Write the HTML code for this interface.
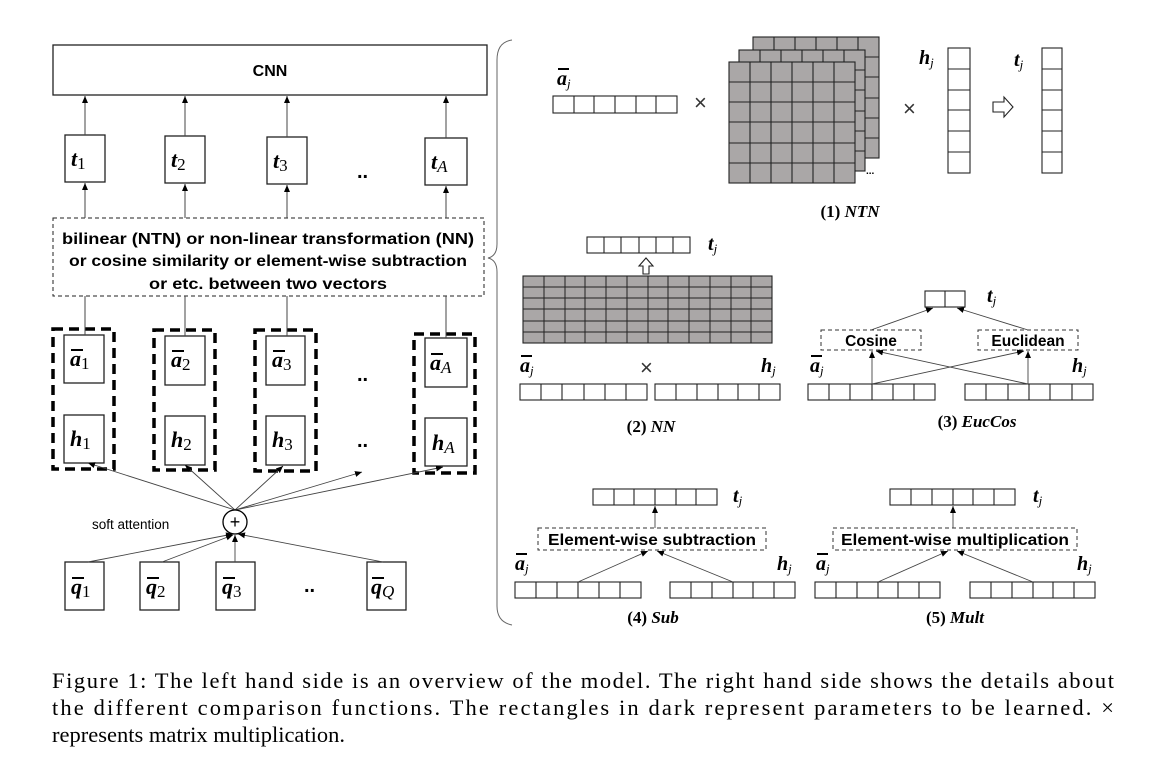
<!DOCTYPE html>
<html><head><meta charset="utf-8"><style>
html,body{margin:0;padding:0;background:#fff;}
svg{display:block;}
.s{font-family:"Liberation Sans",sans-serif;font-weight:bold;}
.m{font-family:"Liberation Serif",serif;font-weight:bold;font-style:italic;}
.sub{font-family:"Liberation Serif",serif;font-weight:normal;font-style:normal;}
.subi{font-family:"Liberation Serif",serif;font-style:italic;font-weight:normal;}
</style></head><body>
<svg width="1165" height="777" viewBox="0 0 1165 777" xmlns="http://www.w3.org/2000/svg">
<defs>
<marker id="ar" markerWidth="8" markerHeight="8" refX="7" refY="4" orient="auto" markerUnits="userSpaceOnUse">
<path d="M0,1 L7,4 L0,7 z" fill="#000"/></marker>
</defs>
<g fill="none" stroke="#222" stroke-width="1.3">
<rect x="53" y="45" width="434" height="50" fill="#fff"/>
<rect x="65" y="135" width="40" height="47"/>
<rect x="165" y="136" width="40" height="47"/>
<rect x="267" y="137" width="40" height="47"/>
<rect x="425" y="138" width="42" height="47"/>
<rect x="53" y="218" width="431" height="78" stroke-dasharray="4,3" stroke-width="1"/>
<rect x="64" y="335" width="40" height="48"/>
<rect x="64" y="415" width="40" height="48"/>
<rect x="165" y="336" width="40" height="49"/>
<rect x="165" y="416" width="40" height="49"/>
<rect x="266" y="336" width="39" height="49"/>
<rect x="266" y="416" width="39" height="49"/>
<rect x="425" y="338" width="42" height="49"/>
<rect x="425" y="418" width="42" height="48"/>
<rect x="65" y="562" width="39" height="48"/>
<rect x="140" y="562" width="39" height="48"/>
<rect x="216" y="562" width="39" height="48"/>
<rect x="367" y="562" width="39" height="48"/>
</g>
<g fill="none" stroke="#000" stroke-width="3.5" stroke-dasharray="10,6">
<rect x="53" y="329" width="61" height="140"/>
<rect x="154" y="330" width="61" height="140"/>
<rect x="255" y="330" width="61" height="141"/>
<rect x="414" y="334" width="61" height="139"/>
</g>
<g stroke="#444" stroke-width="1" marker-end="url(#ar)">
<line x1="85" y1="135" x2="85" y2="96"/>
<line x1="185" y1="136" x2="185" y2="96"/>
<line x1="287" y1="137" x2="287" y2="96"/>
<line x1="446" y1="138" x2="446" y2="96"/>
<line x1="85" y1="218" x2="85" y2="183"/>
<line x1="185" y1="218" x2="185" y2="184"/>
<line x1="287" y1="218" x2="287" y2="185"/>
<line x1="446" y1="218" x2="446" y2="186"/>
</g>
<g stroke="#444" stroke-width="1">
<line x1="85" y1="296" x2="85" y2="335"/>
<line x1="185" y1="296" x2="185" y2="336"/>
<line x1="287" y1="296" x2="287" y2="336"/>
<line x1="446" y1="296" x2="446" y2="338"/>
</g>
<g stroke="#444" stroke-width="0.9" marker-end="url(#ar)">
<line x1="235" y1="510" x2="88" y2="463"/>
<line x1="235" y1="510" x2="185" y2="465"/>
<line x1="235" y1="510" x2="283" y2="466"/>
<line x1="235" y1="510" x2="362" y2="472"/>
<line x1="235" y1="510" x2="443" y2="467"/>
<line x1="88" y1="562" x2="233" y2="534"/>
<line x1="162" y1="562" x2="233" y2="535"/>
<line x1="235" y1="562" x2="235" y2="535"/>
<line x1="383" y1="562" x2="238" y2="534"/>
</g>
<circle cx="235" cy="522" r="12" fill="#fff" stroke="#000" stroke-width="1.3"/>
<text x="235" y="528" font-family="Liberation Sans,sans-serif" font-size="18" text-anchor="middle">+</text>
<text x="92" y="529" font-family="Liberation Sans,sans-serif" font-size="13.5">soft attention</text>
<text x="270" y="76" class="s" font-size="16" text-anchor="middle">CNN</text>
<text x="268" y="244" class="s" font-size="15.5" text-anchor="middle" textLength="412" lengthAdjust="spacingAndGlyphs">bilinear (NTN) or non-linear transformation (NN)</text>
<text x="268" y="266" class="s" font-size="15.5" text-anchor="middle" textLength="398" lengthAdjust="spacingAndGlyphs">or cosine similarity or element-wise subtraction</text>
<text x="268" y="289" class="s" font-size="15.5" text-anchor="middle" textLength="238" lengthAdjust="spacingAndGlyphs">or etc. between two vectors</text>
<g font-size="22">
<text x="71" y="166" class="m">t<tspan class="sub" font-size="17" dy="3">1</tspan></text>
<text x="171" y="167" class="m">t<tspan class="sub" font-size="17" dy="3">2</tspan></text>
<text x="273" y="168" class="m">t<tspan class="sub" font-size="17" dy="3">3</tspan></text>
<text x="431" y="169" class="m">t<tspan class="subi" font-size="17" dy="3">A</tspan></text>
<text x="70" y="366" class="m">a<tspan class="sub" font-size="17" dy="3">1</tspan></text>
<text x="171" y="367" class="m">a<tspan class="sub" font-size="17" dy="3">2</tspan></text>
<text x="272" y="367" class="m">a<tspan class="sub" font-size="17" dy="3">3</tspan></text>
<text x="430" y="370" class="m">a<tspan class="subi" font-size="17" dy="3">A</tspan></text>
<text x="70" y="446" class="m">h<tspan class="sub" font-size="17" dy="3">1</tspan></text>
<text x="171" y="447" class="m">h<tspan class="sub" font-size="17" dy="3">2</tspan></text>
<text x="272" y="447" class="m">h<tspan class="sub" font-size="17" dy="3">3</tspan></text>
<text x="432" y="450" class="m">h<tspan class="subi" font-size="17" dy="3">A</tspan></text>
<text x="71" y="594" class="m">q<tspan class="sub" font-size="17" dy="3">1</tspan></text>
<text x="146" y="594" class="m">q<tspan class="sub" font-size="17" dy="3">2</tspan></text>
<text x="222" y="594" class="m">q<tspan class="sub" font-size="17" dy="3">3</tspan></text>
<text x="371" y="594" class="m">q<tspan class="subi" font-size="17" dy="3">Q</tspan></text>
</g>
<g stroke="#000" stroke-width="2">
<line x1="71" y1="350" x2="83" y2="350"/><line x1="172" y1="351" x2="184" y2="351"/><line x1="273" y1="351" x2="285" y2="351"/><line x1="431" y1="354" x2="443" y2="354"/>
<line x1="72" y1="578" x2="84" y2="578"/><line x1="147" y1="578" x2="159" y2="578"/><line x1="223" y1="578" x2="235" y2="578"/><line x1="372" y1="578" x2="384" y2="578"/>
</g>
<g font-family="Liberation Sans,sans-serif" font-size="20" font-weight="bold">
<text x="357" y="178">..</text><text x="357" y="381">..</text><text x="357" y="447">..</text><text x="304" y="592">..</text>
</g>
<path d="M512,40 Q497,42 497,60 L497,244 Q497,256 488,258 Q497,260 497,272 L497,606 Q497,622 512,625" fill="none" stroke="#666" stroke-width="1"/>

<g stroke="#222" stroke-width="1.1">
<rect x="753" y="37" width="126" height="121" fill="#aaa7a7"/>
<path d="M774,37V158M795,37V158M816,37V158M837,37V158M858,37V158M753,57H879M753,77H879M753,98H879M753,118H879M753,138H879"/>
<rect x="739" y="50" width="126" height="121" fill="#aaa7a7"/>
<path d="M760,50V171M781,50V171M802,50V171M823,50V171M844,50V171M739,70H865M739,90H865M739,111H865M739,131H865M739,151H865"/>
<rect x="729" y="62" width="126" height="121" fill="#aaa7a7"/>
<path d="M750,62V183M771,62V183M792,62V183M813,62V183M834,62V183M729,82H855M729,102H855M729,122H855M729,143H855M729,163H855"/>
</g>
<g fill="none" stroke="#222" stroke-width="1.1">
<rect x="553" y="96" width="124" height="17"/><path d="M574,96V113M594,96V113M615,96V113M636,96V113M656,96V113"/>
<rect x="948" y="48" width="22" height="125"/><path d="M948,69H970M948,90H970M948,110H970M948,131H970M948,152H970"/>
<rect x="1042" y="48" width="20" height="125"/><path d="M1042,69H1062M1042,90H1062M1042,110H1062M1042,131H1062M1042,152H1062"/>
<rect x="587" y="237" width="103" height="16"/><path d="M604,237V253M621,237V253M639,237V253M656,237V253M673,237V253"/>
<rect x="520" y="384" width="127" height="16"/><path d="M541,384V400M562,384V400M584,384V400M605,384V400M626,384V400"/>
<rect x="655" y="384" width="125" height="16"/><path d="M676,384V400M697,384V400M718,384V400M738,384V400M759,384V400"/>
<rect x="925" y="291" width="40" height="16"/><path d="M945,291V307"/>
<rect x="808" y="384" width="127" height="16"/><path d="M829,384V400M850,384V400M872,384V400M893,384V400M914,384V400"/>
<rect x="965" y="384" width="128" height="16"/><path d="M986,384V400M1008,384V400M1029,384V400M1050,384V400M1072,384V400"/>
<rect x="593" y="489" width="124" height="16"/><path d="M614,489V505M634,489V505M655,489V505M676,489V505M696,489V505"/>
<rect x="515" y="582" width="126" height="16"/><path d="M536,582V598M557,582V598M578,582V598M599,582V598M620,582V598"/>
<rect x="670" y="582" width="125" height="16"/><path d="M691,582V598M712,582V598M733,582V598M753,582V598M774,582V598"/>
<rect x="890" y="489" width="125" height="16"/><path d="M911,489V505M932,489V505M953,489V505M973,489V505M994,489V505"/>
<rect x="815" y="582" width="125" height="16"/><path d="M836,582V598M857,582V598M878,582V598M898,582V598M919,582V598"/>
<rect x="970" y="582" width="125" height="16"/><path d="M991,582V598M1012,582V598M1033,582V598M1053,582V598M1074,582V598"/>
</g>
<rect x="523" y="276" width="249" height="67" fill="#aaa7a7" stroke="#222" stroke-width="1.1"/>
<path d="M544,276V343M565,276V343M585,276V343M606,276V343M627,276V343M648,276V343M668,276V343M689,276V343M710,276V343M731,276V343M751,276V343M523,287H772M523,298H772M523,309H772M523,321H772M523,332H772" stroke="#222" stroke-width="1"/>
<path d="M993,102 H1004 V97 L1013,107 L1004,117 V112 H993 Z" fill="#fff" stroke="#222" stroke-width="1.1"/>
<path d="M643,274 V266 H639 L646,258 L653,266 H649 V274 Z" fill="#fff" stroke="#222" stroke-width="1.1"/>
<g fill="#fff" stroke="#333" stroke-width="1" stroke-dasharray="4,3">
<rect x="821" y="330" width="100" height="20"/>
<rect x="978" y="330" width="100" height="20"/>
<rect x="538" y="528" width="228" height="22"/>
<rect x="833" y="528" width="244" height="22"/>
</g>
<g stroke="#444" stroke-width="0.9" marker-end="url(#ar)">
<line x1="871" y1="330" x2="933" y2="308"/>
<line x1="1028" y1="330" x2="957" y2="308"/>
<line x1="872" y1="384" x2="872" y2="351"/>
<line x1="872" y1="384" x2="1024" y2="351"/>
<line x1="1028" y1="384" x2="1028" y2="351"/>
<line x1="1028" y1="384" x2="876" y2="351"/>
<line x1="655" y1="528" x2="655" y2="506"/>
<line x1="953" y1="528" x2="953" y2="506"/>
<line x1="578" y1="582" x2="648" y2="551"/>
<line x1="733" y1="582" x2="657" y2="551"/>
<line x1="878" y1="582" x2="948" y2="551"/>
<line x1="1033" y1="582" x2="957" y2="551"/>
</g>
<g class="s" font-size="15.5" text-anchor="middle">
<text x="871" y="346">Cosine</text>
<text x="1028" y="346">Euclidean</text>
<text x="652" y="545" textLength="208" lengthAdjust="spacingAndGlyphs">Element-wise subtraction</text>
<text x="955" y="545" textLength="228" lengthAdjust="spacingAndGlyphs">Element-wise multiplication</text>
</g>
<g font-size="20">
<text x="557" y="85" class="m">a<tspan class="subi" font-size="13" dy="3">j</tspan></text>
<text x="919" y="64" class="m">h<tspan class="subi" font-size="13" dy="3">j</tspan></text>
<text x="1014" y="66" class="m">t<tspan class="subi" font-size="13" dy="3">j</tspan></text>
<text x="708" y="250" class="m">t<tspan class="subi" font-size="13" dy="3">j</tspan></text>
<text x="520" y="372" class="m">a<tspan class="subi" font-size="13" dy="3">j</tspan></text>
<text x="761" y="372" class="m">h<tspan class="subi" font-size="13" dy="3">j</tspan></text>
<text x="987" y="302" class="m">t<tspan class="subi" font-size="13" dy="3">j</tspan></text>
<text x="810" y="372" class="m">a<tspan class="subi" font-size="13" dy="3">j</tspan></text>
<text x="1072" y="372" class="m">h<tspan class="subi" font-size="13" dy="3">j</tspan></text>
<text x="733" y="502" class="m">t<tspan class="subi" font-size="13" dy="3">j</tspan></text>
<text x="515" y="570" class="m">a<tspan class="subi" font-size="13" dy="3">j</tspan></text>
<text x="777" y="570" class="m">h<tspan class="subi" font-size="13" dy="3">j</tspan></text>
<text x="1033" y="502" class="m">t<tspan class="subi" font-size="13" dy="3">j</tspan></text>
<text x="816" y="570" class="m">a<tspan class="subi" font-size="13" dy="3">j</tspan></text>
<text x="1077" y="570" class="m">h<tspan class="subi" font-size="13" dy="3">j</tspan></text>
</g>
<g stroke="#000" stroke-width="2">
<line x1="558" y1="69" x2="569" y2="69"/><line x1="521" y1="356" x2="532" y2="356"/><line x1="811" y1="356" x2="822" y2="356"/><line x1="516" y1="554" x2="527" y2="554"/><line x1="817" y1="554" x2="828" y2="554"/>
</g>
<g font-family="Liberation Sans,sans-serif" font-size="22" fill="#333">
<text x="694" y="110">×</text><text x="903" y="116">×</text><text x="640" y="375">×</text>
</g>
<text x="866" y="174" font-family="Liberation Sans,sans-serif" font-size="10" font-weight="bold">...</text>
<g font-family="Liberation Serif,serif" font-weight="bold" font-size="17" text-anchor="middle">
<text x="850" y="217">(1) <tspan font-style="italic">NTN</tspan></text>
<text x="651" y="432">(2) <tspan font-style="italic">NN</tspan></text>
<text x="977" y="427">(3) <tspan font-style="italic">EucCos</tspan></text>
<text x="653" y="623">(4) <tspan font-style="italic">Sub</tspan></text>
<text x="955" y="623">(5) <tspan font-style="italic">Mult</tspan></text>
</g>
<g font-family="Liberation Serif,serif" font-size="22.5" fill="#000">
<text x="52" y="688" textLength="1062" lengthAdjust="spacing">Figure 1: The left hand side is an overview of the model. The right hand side shows the details about</text>
<text x="52" y="715" textLength="1062" lengthAdjust="spacing">the different comparison functions. The rectangles in dark represent parameters to be learned. ×</text>
<text x="52" y="742">represents matrix multiplication.</text>
</g>
</svg>
</body></html>
